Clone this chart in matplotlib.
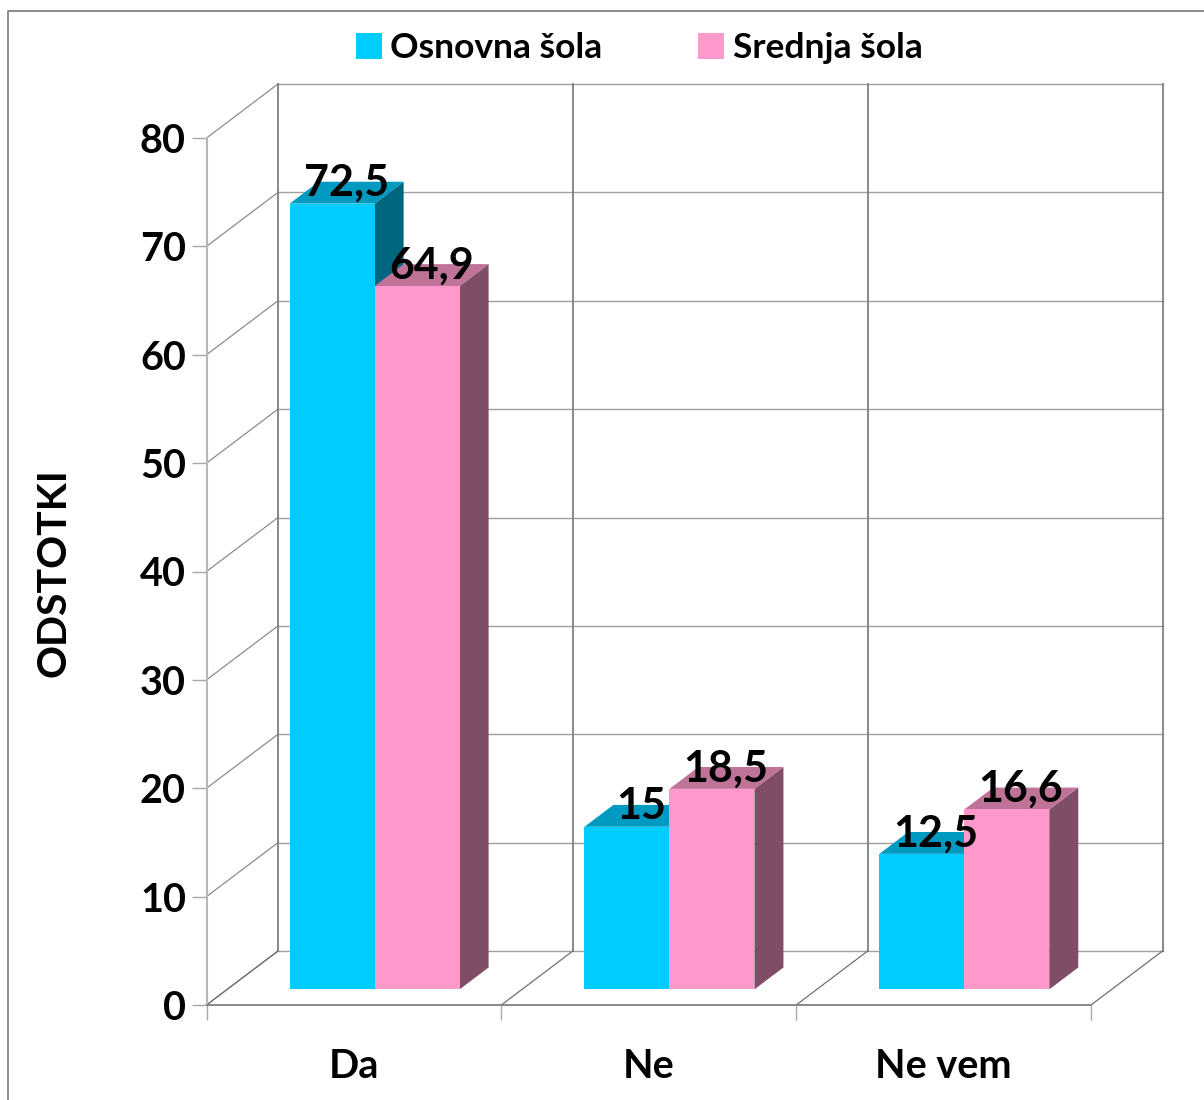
from matplotlib import pyplot as plt
from matplotlib.lines import Line2D
from matplotlib.patches import Patch

categories = ["Da", "Ne", "Ne vem"]
osnovna = [72.5, 15, 12.5]
srednja = [64.9, 18.5, 16.6]
osnovna_labels = ["72,5", "15", "12,5"]
srednja_labels = ["64,9", "18,5", "16,6"]
series_names = ["Osnovna šola", "Srednja šola"]
y_ticks = [0, 10, 20, 30, 40, 50, 60, 70, 80]

FONT = "Lato"
W, H = 1204, 1100
# px sizes of the fake 3d box
PX_X = 884.5 / 3
PX_Y = 867 / 80
DEPTH_X = 71.5 / PX_X
DEPTH_Y = 54 / PX_Y
BAR_W = 85 / PX_X
NEAR = 0.29
FAR = 0.695


def draw_bar(ax, left, value, front, top, side):
    x0 = left + DEPTH_X * NEAR
    x1 = x0 + BAR_W
    y0 = DEPTH_Y * NEAR
    y1 = y0 + value
    dx = DEPTH_X * (FAR - NEAR)
    dy = DEPTH_Y * (FAR - NEAR)
    ax.fill([x1, x1 + dx, x1 + dx, x1], [y0, y0 + dy, y1 + dy, y1],
            color=side, lw=0, clip_on=False, zorder=3)
    ax.fill([x0, x1, x1 + dx, x0 + dx], [y1, y1, y1 + dy, y1 + dy],
            color=top, lw=0, clip_on=False, zorder=3)
    ax.fill([x0, x1, x1, x0], [y0, y0, y1, y1],
            color=front, lw=0, clip_on=False, zorder=3)
    return x0 + BAR_W / 2, y1


def main():
    fig = plt.figure(figsize=(W / 100, H / 100), dpi=100)
    ax = fig.add_axes([206.5 / W, 1 - 1005 / H, 884.5 / W, 867 / H])
    ax.set_xlim(0, 3)
    ax.set_ylim(0, 80)

    # outer frame, only top and left are visible
    fig.add_artist(Line2D([8 / W, 8 / W, 1], [0, 1 - 11 / H, 1 - 11 / H],
                          color="#8c8c8c", lw=1.4))

    # back wall and side wall
    for t in y_ticks:
        ax.plot([DEPTH_X, 3 + DEPTH_X], [t + DEPTH_Y, t + DEPTH_Y],
                color="#a0a0a0", lw=1, clip_on=False, zorder=1)
        ax.plot([0, DEPTH_X], [t, t + DEPTH_Y],
                color="#8c8c8c", lw=0.9, clip_on=False, zorder=1)
    for i in range(4):
        ax.plot([i + DEPTH_X, i + DEPTH_X], [DEPTH_Y, 80 + DEPTH_Y],
                color="#808080", lw=1.3, clip_on=False, zorder=1)
        ax.plot([i, i + DEPTH_X], [0, DEPTH_Y],
                color="#707070", lw=0.9, clip_on=False, zorder=1)

    ax.patch.set_visible(False)
    for s in ["top", "right"]:
        ax.spines[s].set_visible(False)
    ax.spines["left"].set_color("#b8b8b8")
    ax.spines["left"].set_linewidth(1.5)
    ax.spines["bottom"].set_color("#808080")
    ax.spines["bottom"].set_linewidth(1.3)

    ax.set_yticks(y_ticks)
    ax.tick_params(axis="y", length=10.8, width=1, color="#a8a8a8", pad=4,
                   labelsize=28.5)
    ax.set_xticks([0, 1, 2, 3])
    ax.set_xticklabels([])
    ax.tick_params(axis="x", which="major", length=10.8, width=1, color="#a8a8a8")
    ax.set_xticks([0.5, 1.5, 2.5], minor=True)
    ax.set_xticklabels(categories, minor=True)
    ax.tick_params(axis="x", which="minor", length=0, pad=31, labelsize=28.5)
    for lab in ax.get_yticklabels() + ax.get_xticklabels(minor=True):
        lab.set_fontfamily(FONT)
        lab.set_fontweight("bold")

    # bars
    for i in range(len(categories)):
        x = i + 0.5 - BAR_W
        cx, y = draw_bar(ax, x, osnovna[i], "#00ccff", "#0099bf", "#006680")
        ax.text(cx + 14 / PX_X, y + 20.5 / PX_Y, osnovna_labels[i], ha="center",
                va="center", fontsize=31, fontweight="bold", family=FONT, zorder=5)
        cx, y = draw_bar(ax, x + BAR_W, srednja[i], "#ff99cc", "#bf7399", "#804d66")
        ax.text(cx + 14 / PX_X, y + 20.5 / PX_Y, srednja_labels[i], ha="center",
                va="center", fontsize=31, fontweight="bold", family=FONT, zorder=5)

    fig.text(54 / W, 1 - 573 / H, "ODSTOTKI", rotation=90, ha="center", va="center",
             fontsize=29.5, fontweight="bold", family=FONT)

    handles = [Patch(color="#00ccff", lw=0), Patch(color="#ff99cc", lw=0)]
    fig.legend(handles, series_names, loc="center left", ncol=2, frameon=False,
               bbox_to_anchor=(356 / W, 1 - 48.5 / H), handlelength=0.72, handleheight=0.72,
               handletextpad=0.25, columnspacing=2.7, borderpad=0, borderaxespad=0,
               prop={"family": FONT, "weight": "bold", "size": 25.5})

    fig.savefig("out.png", dpi=100, facecolor="white")


if __name__ == "__main__":
    main()
